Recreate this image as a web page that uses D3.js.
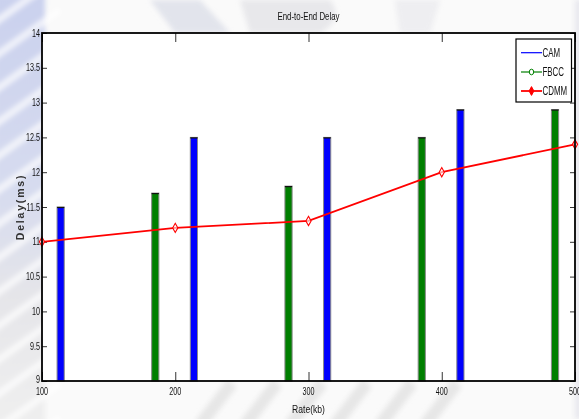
<!DOCTYPE html>
<html>
<head>
<meta charset="utf-8">
<script src="https://cdn.jsdelivr.net/npm/d3@7"></script>
<style>
  html, body { margin: 0; padding: 0; background: #ffffff; }
  svg { display: block; }
  text { font-family: "Liberation Sans", Arial, Helvetica, sans-serif; fill: #111; }
</style>
</head>
<body>
<svg id="chart" width="579" height="419"></svg>
<script>
// Series data
const camRates   = [114, 214, 314, 414];
const camDelay   = [11.5, 12.5, 12.5, 12.9];
const fbccRates  = [185, 285, 385, 485];
const fbccDelay  = [11.7, 11.8, 12.5, 12.9];
const cdmmRates  = [100, 200, 300, 400, 500];
const cdmmDelay  = [11.0, 11.2, 11.3, 12.0, 12.4];

// Axis ticks
const xTicks = [100, 200, 300, 400, 500];
const yTicks = [9, 9.5, 10, 10.5, 11, 11.5, 12, 12.5, 13, 13.5, 14];

const seriesNames = ["CAM", "FBCC", "CDMM"];
const colors = { CAM: "#0000ff", FBCC: "#007f00", CDMM: "#ff0000" };

const W = 579, H = 419;
const plot = { left: 42, right: 575, top: 33, bottom: 381 };

const svg = d3.select("#chart");

const x = d3.scaleLinear().domain([100, 500]).range([plot.left, plot.right]);
const y = d3.scaleLinear().domain([9, 14]).range([plot.bottom, plot.top]);

// Narrow text helper (condensed look)
function ntext(g, px, py, str, size, sx, anchor) {
  return g.append("text")
    .attr("transform", `translate(${px},${py}) scale(${sx},1)`)
    .attr("text-anchor", anchor || "middle")
    .style("font-size", size + "px")
    .text(str);
}

// ---- faint background watermark ----
const defs = svg.append("defs");
const lg = defs.append("linearGradient").attr("id", "wmGrad")
  .attr("x1", 0).attr("y1", 0).attr("x2", 0).attr("y2", 1);
lg.append("stop").attr("offset", "0%").attr("stop-color", "#cad1ee");
lg.append("stop").attr("offset", "45%").attr("stop-color", "#d6dbef");
lg.append("stop").attr("offset", "70%").attr("stop-color", "#e5e5e9");
lg.append("stop").attr("offset", "100%").attr("stop-color", "#efefef");
defs.append("filter").attr("id", "soft")
  .append("feGaussianBlur").attr("stdDeviation", 2.5);

const wm = svg.append("g");
wm.append("rect").attr("x", 0).attr("y", 0).attr("width", W).attr("height", H).attr("fill", "#fafafa");
const wmSoft = wm.append("g").attr("filter", "url(#soft)");
wmSoft.append("rect").attr("x", -5).attr("y", -5).attr("width", 50).attr("height", H + 10).attr("fill", "url(#wmGrad)");
// diagonal light stripes across the left margin
d3.range(-2, 14).forEach(i => {
  wmSoft.append("line")
    .attr("x1", -10).attr("y1", 60 + i * 34)
    .attr("x2", 60).attr("y2", 10 + i * 34)
    .attr("stroke", "#ffffff").attr("stroke-width", 7).attr("opacity", 0.7);
});
// faint logo shapes above and below the axes
wmSoft.append("path")
  .attr("d", "M150,0 L200,0 L230,33 L175,33 Z").attr("fill", "#dcdee8").attr("opacity", 0.8);
wmSoft.append("path")
  .attr("d", "M240,0 L330,0 Q345,20 320,33 L250,33 Z").attr("fill", "#e3e3e7").attr("opacity", 0.8);
wmSoft.append("path")
  .attr("d", "M395,0 L440,0 L430,33 L400,33 Z").attr("fill", "#e8e8ec").attr("opacity", 0.7);
d3.range(0, 6).forEach(i => {
  wmSoft.append("line")
    .attr("x1", 200 + i * 45).attr("y1", 425)
    .attr("x2", 232 + i * 45).attr("y2", 383)
    .attr("stroke", "#e6e6e6").attr("stroke-width", 12);
});
wmSoft.append("rect").attr("x", 575).attr("y", 0).attr("width", 8).attr("height", H).attr("fill", "#e8e8ee");

// ---- plot area ----
svg.append("rect")
  .attr("x", plot.left).attr("y", plot.top)
  .attr("width", plot.right - plot.left).attr("height", plot.bottom - plot.top)
  .attr("fill", "#ffffff");

// Bars
const barW = 5.4; // in rate units
const bars = svg.append("g");
function drawBars(rates, vals, color) {
  rates.forEach((r, i) => {
    const x0 = x(r - barW / 2), x1 = x(r + barW / 2);
    bars.append("rect")
      .attr("x", x0).attr("y", y(vals[i]))
      .attr("width", x1 - x0).attr("height", y(9) - y(vals[i]))
      .attr("fill", color).attr("stroke", "#8a8a8a").attr("stroke-width", 1);
    bars.append("line")
      .attr("x1", x0).attr("x2", x1)
      .attr("y1", y(vals[i]) + 0.5).attr("y2", y(vals[i]) + 0.5)
      .attr("stroke", "#111").attr("stroke-width", 1.2);
  });
}
drawBars(camRates, camDelay, colors.CAM);
drawBars(fbccRates, fbccDelay, colors.FBCC);

// Axes (ticks only, drawn through d3 axes)
const axFmt = d => d3.format("")(d);
const tickLenX = 9, tickLenY = 5;
const gBottom = svg.append("g").attr("transform", `translate(0,${plot.bottom})`)
  .call(d3.axisBottom(x).tickValues(xTicks).tickSize(-tickLenX).tickFormat(""));
const gTop = svg.append("g").attr("transform", `translate(0,${plot.top})`)
  .call(d3.axisTop(x).tickValues(xTicks).tickSize(-tickLenX).tickFormat(""));
const gLeft = svg.append("g").attr("transform", `translate(${plot.left},0)`)
  .call(d3.axisLeft(y).tickValues(yTicks).tickSize(-tickLenY).tickFormat(""));
const gRight = svg.append("g").attr("transform", `translate(${plot.right},0)`)
  .call(d3.axisRight(y).tickValues(yTicks).tickSize(-tickLenY).tickFormat(""));
[gBottom, gTop, gLeft, gRight].forEach(g => {
  g.select(".domain").remove();
  g.selectAll(".tick line").attr("stroke", "#333").attr("stroke-width", 1);
});

// Tick labels
const labels = svg.append("g");
xTicks.forEach(t => ntext(labels, x(t), plot.bottom + 13.5, axFmt(t), 10, 0.72, "middle"));
yTicks.forEach(t => ntext(labels, plot.left - 2, y(t) + (t === 9 ? 1.5 : 3.5), axFmt(t), 10, 0.72, "end"));

// CDMM line with markers
const line = d3.line().x((d, i) => x(cdmmRates[i])).y(d => y(d));
svg.append("path")
  .datum(cdmmDelay)
  .attr("d", line)
  .attr("fill", "none").attr("stroke", colors.CDMM).attr("stroke-width", 1.8);
const diamond = (cx, cy, w, h) => `M${cx},${cy - h} L${cx + w},${cy} L${cx},${cy + h} L${cx - w},${cy} Z`;
svg.append("g").selectAll("path").data(cdmmDelay).join("path")
  .attr("d", (d, i) => diamond(x(cdmmRates[i]), y(d), 2.6, 4.6))
  .attr("fill", "#ffffff").attr("fill-opacity", 0.6)
  .attr("stroke", colors.CDMM).attr("stroke-width", 1.1);

// Frame
svg.append("rect")
  .attr("x", plot.left).attr("y", plot.top)
  .attr("width", plot.right - plot.left).attr("height", plot.bottom - plot.top)
  .attr("fill", "none").attr("stroke", "#000").attr("stroke-width", 1.8);

// Title and axis labels
ntext(svg, (plot.left + plot.right) / 2, 20, "End-to-End Delay", 10.5, 0.75, "middle");
ntext(svg, (plot.left + plot.right) / 2, 413, "Rate(kb)", 11, 0.78, "middle");
svg.append("text")
  .attr("transform", `translate(24,${(plot.top + plot.bottom) / 2}) rotate(-90)`)
  .attr("text-anchor", "middle")
  .style("font-size", "10.5px").style("font-weight", "bold").style("letter-spacing", "1.8px")
  .style("fill", "#333")
  .text("Delay(ms)");

// Legend
const leg = svg.append("g");
leg.append("rect").attr("x", 516).attr("y", 39).attr("width", 55.5).attr("height", 63)
  .attr("fill", "#ffffff").attr("stroke", "#000").attr("stroke-width", 1.2);
const legY = [52.7, 72, 91];
seriesNames.forEach((name, i) => {
  const ly = legY[i];
  leg.append("line").attr("x1", 521).attr("x2", 542).attr("y1", ly).attr("y2", ly)
    .attr("stroke", colors[name]).attr("stroke-width", name === "CDMM" ? 1.8 : 1.2);
  if (name === "FBCC") {
    leg.append("ellipse").attr("cx", 531.5).attr("cy", ly).attr("rx", 2.2).attr("ry", 2.8)
      .attr("fill", "#fff").attr("stroke", colors.FBCC).attr("stroke-width", 1);
  }
  if (name === "CDMM") {
    leg.append("path").attr("d", diamond(531.5, ly, 2.4, 4.4))
      .attr("fill", colors.CDMM).attr("stroke", colors.CDMM).attr("stroke-width", 1);
  }
  ntext(leg, 542.5, ly + 4.3, name, 12, 0.66, "start");
});
</script>
</body>
</html>
